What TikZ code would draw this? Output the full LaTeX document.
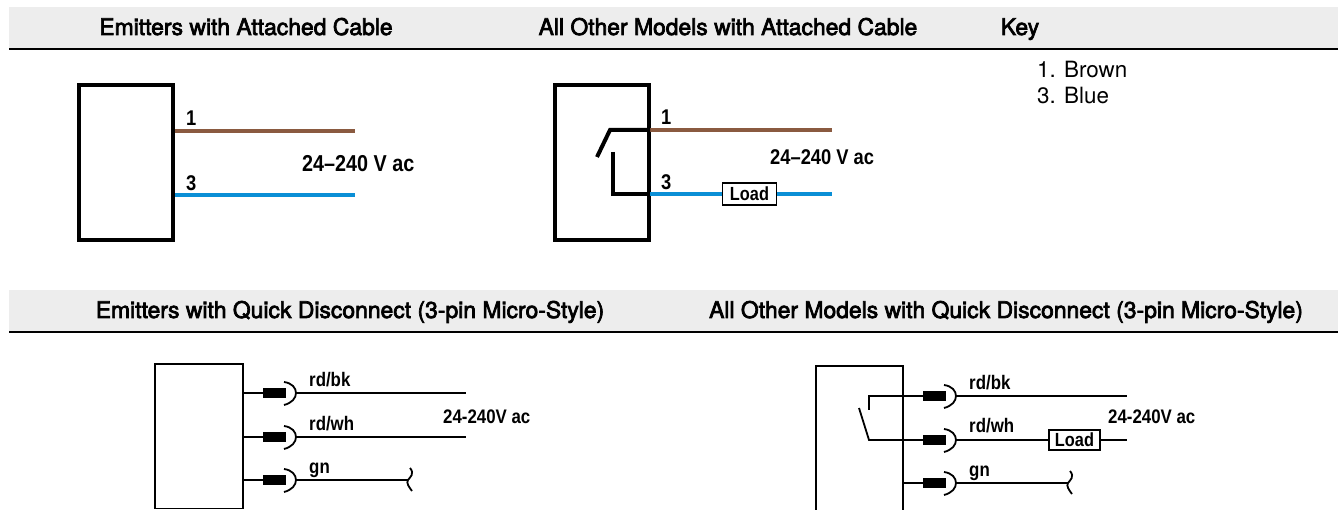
\documentclass[tikz,border=0pt]{standalone}
\usepackage{fontspec}
\setmainfont{TeX Gyre Heros}
\newfontfamily\headfont[FakeBold=3]{TeX Gyre Heros}
\newfontfamily\narrowbold[FakeStretch=0.86]{Liberation Sans Bold}
\definecolor{band}{HTML}{EDEDED}
\definecolor{brownw}{HTML}{8A5A40}
\definecolor{bluew}{HTML}{0A8FD6}
\tikzset{
  headband/.style={fill=band,draw=none},
  headrule/.style={line width=2.2pt,draw=black},
  headtext/.style={inner sep=0pt,anchor=base,font=\headfont\fontsize{22.9}{26}\selectfont,text=black},
  keytext/.style={inner sep=0pt,anchor=base west,font=\fontsize{22.4}{26}\selectfont,text=black},
  heavy/.style={line width=4pt,draw=black,line join=miter},
  thin wire/.style={line width=1.8pt,draw=black},
  cablewire/.style={line width=4pt},
  lab/.style={inner sep=0pt,anchor=base west,font=\narrowbold\fontsize{21.3}{24}\selectfont},
  smalllab/.style={inner sep=0pt,anchor=base west,font=\narrowbold\fontsize{19.6}{22}\selectfont},
  loadbox/.style={draw=black,fill=white,inner sep=0pt,minimum width=54pt,line width=1.8pt,font=\narrowbold\fontsize{19}{22}\selectfont},
  pinbox/.style={fill=black,draw=none,minimum width=23pt,minimum height=10pt,inner sep=0pt},
  sensor/.style={draw=black,inner sep=0pt},
}
\newcommand{\pinarc}[2]{% #1 x of pin right, #2 y
  \draw[thin wire] (#1-2,#2-11) .. controls (#1+6,#2-10) and (#1+10,#2-5) .. (#1+10,#2) .. controls (#1+10,#2+5) and (#1+6,#2+10) .. (#1-2,#2+12);
}
\newcommand{\squiggle}[2]{%
  \draw[thin wire] (#1+2,#2-12) .. controls (#1+7,#2-6) and (#1+2,#2-3) .. (#1,#2) .. controls (#1-2,#2+3) and (#1+1,#2+7) .. (#1+4,#2+11);
}
\begin{document}
\begin{tikzpicture}[x=1pt,y=-1pt]
\useasboundingbox (0,0) rectangle (1338,510);
% header bands
\fill[headband] (9,7) rectangle (1338,48);
\draw[headrule] (9,49) -- (1338,49);
\fill[headband] (9,290) rectangle (1338,331);
\draw[headrule] (9,332) -- (1338,332);
\node[headtext] (h1) at (246,35) {Emitters with Attached Cable};
\node[headtext] (h2) at (728,35) {All Other Models with Attached Cable};
\node[headtext] (h3) at (1020,35) {Key};
\node[headtext] (h4) at (350,318) {Emitters with Quick Disconnect (3-pin Micro-Style)};
\node[headtext] (h5) at (1006,318) {All Other Models with Quick Disconnect (3-pin Micro-Style)};
\node[keytext] (k1) at (1037,78) {1. Brown};
\node[keytext] (k2) at (1037,103.5) {3. Blue};

% top-left emitter
\node[sensor,line width=4pt,minimum width=94pt,minimum height=155pt] (s1) at (126,162.5) {};
\coordinate (s1a) at (175,131); \coordinate (e1a) at (355,131);
\coordinate (s1b) at (175,195); \coordinate (e1b) at (355,195);
\draw[cablewire,brownw] (s1a) -- (e1a);
\draw[cablewire,bluew] (s1b) -- (e1b);
\node[lab] (n1) at (186,126) {1};
\node[lab] (n3) at (186,191) {3};
\node[lab,font=\narrowbold\fontsize{23}{26}\selectfont] (v1) at (302,172) {24–240 V ac};

% top-right switched model
\node[sensor,line width=4pt,minimum width=94pt,minimum height=155pt] (s2) at (602,162.5) {};
\coordinate (s2a) at (650,130); \coordinate (e2a) at (832,130);
\coordinate (s2b) at (650,194); \coordinate (e2b) at (832,194);
\coordinate (sw1) at (610,130); \coordinate (sw2) at (597,157);
\coordinate (ct1) at (612.5,152); \coordinate (ct2) at (612.5,194);
\draw[cablewire,brownw] (s2a) -- (e2a);
\draw[cablewire,bluew] (s2b) -- (e2b);
\draw[heavy] (s2a) -- (sw1) -- (sw2);
\draw[heavy] (ct1) -- (ct2) -- (s2b);
\node[loadbox,minimum height=22pt] (l1) at (749.5,194) {Load};
\node[lab] (n4) at (661,125) {1};
\node[lab] (n5) at (661,190) {3};
\node[lab] (v2) at (770,165) {24–240 V ac};

% bottom-left
\draw[thin wire] (155,508.5) -- (155,364) -- (243,364) -- (243,508.5) -- cycle;
\foreach \y/\nm in {393/a,437/b,480/c}{
  \node[pinbox] (p\nm) at (274.5,\y) {};
  \pinarc{286}{\y}
  \coordinate (b\nm) at (243,\y);
  \coordinate (q\nm) at (296,\y);
  \draw[thin wire] (b\nm) -- (p\nm);
}
\coordinate (ea) at (466,393); \coordinate (eb) at (466,437); \coordinate (ec) at (408,480);
\draw[thin wire] (qa) -- (ea);
\draw[thin wire] (qb) -- (eb);
\draw[thin wire] (qc) -- (ec);
\squiggle{408}{480}
\node[smalllab] (t1) at (309,386) {rd/bk};
\node[smalllab] (t2) at (309,430) {rd/wh};
\node[smalllab] (t3) at (309,473) {gn};
\node[smalllab] (v3) at (443,423) {24-240V ac};

% bottom-right
\draw[thin wire] (816,510) -- (816,366) -- (903,366) -- (903,510);
\foreach \y/\nm in {396/a,440/b,483/c}{
  \node[pinbox] (r\nm) at (934.5,\y) {};
  \pinarc{946}{\y}
  \coordinate (u\nm) at (956,\y);
}
\coordinate (fa) at (1127,396); \coordinate (fb) at (1127,440); \coordinate (fc) at (1068,483);
\coordinate (wc) at (903,483);
\coordinate (swa) at (869,396); \coordinate (swb) at (869,410);
\coordinate (bla) at (859,408); \coordinate (blb) at (869,440);
\draw[thin wire] (ra) -- (swa) -- (swb);
\draw[thin wire] (bla) -- (blb) -- (rb);
\draw[thin wire] (wc) -- (rc);
\draw[thin wire] (ua) -- (fa);
\draw[thin wire] (ub) -- (fb);
\draw[thin wire] (uc) -- (fc);
\squiggle{1068}{483}
\node[loadbox,minimum width=51pt,minimum height=20pt] (l2) at (1074.5,440) {Load};
\node[smalllab] (t4) at (969,389) {rd/bk};
\node[smalllab] (t5) at (969,432) {rd/wh};
\node[smalllab] (t6) at (969,476) {gn};
\node[smalllab] (v4) at (1108,423) {24-240V ac};
\end{tikzpicture}
\end{document}
